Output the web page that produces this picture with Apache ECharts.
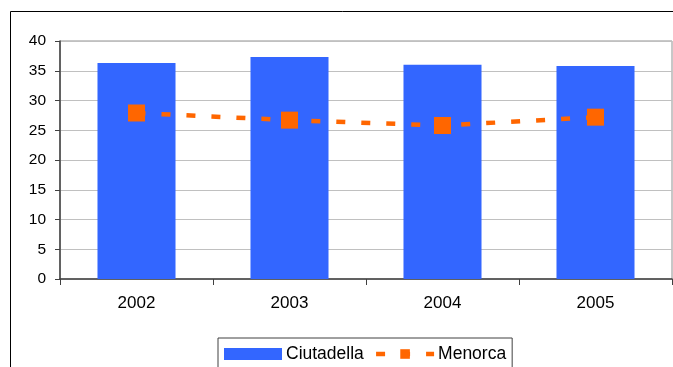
<!DOCTYPE html>
<html>
<head>
<meta charset="utf-8">
<script src="https://cdn.jsdelivr.net/npm/echarts@6/dist/echarts.min.js"></script>
<style>
html,body{margin:0;padding:0;background:#fff;}
#c{width:673px;height:367px;}
</style>
</head>
<body>
<div id="c"></div>
<script>
const categories = ['2002', '2003', '2004', '2005'];
const ciutadella = [36.3, 37.3, 36.0, 35.8];
const menorca = [27.9, 26.7, 25.8, 27.2];
const yTicks = { min: 0, max: 40, interval: 5 };

const chart = echarts.init(document.getElementById('c'), null, { renderer: 'canvas' });
const font = 'Arial, "Liberation Sans", sans-serif';
chart.setOption({
  animation: false,
  backgroundColor: '#fff',
  graphic: [{
    type: 'rect',
    shape: { x: 10.5, y: 11.5, width: 700, height: 400 },
    style: { fill: 'none', stroke: '#000', lineWidth: 1 },
    silent: true
  }],
  grid: {
    left: 60, right: 1, top: 41, bottom: 88,
    show: true, borderColor: '#909090', borderWidth: 1, backgroundColor: 'transparent'
  },
  legend: {
    left: 218, top: 338,
    padding: [6, 6, 20, 6],
    borderColor: '#404040', borderWidth: 1,
    itemWidth: 58, itemHeight: 12, itemGap: 10,
    textStyle: { fontFamily: font, fontSize: 17.5, color: '#000', lineHeight: 20, padding: [0, 0, 0, -1] },
    data: [
      { name: 'Ciutadella', icon: 'rect' },
      { name: 'Menorca', lineStyle: { width: 4.5, type: [9, 16], color: '#FF6600' } }
    ]
  },
  xAxis: {
    type: 'category',
    data: categories,
    boundaryGap: true,
    axisLine: { lineStyle: { color: '#404040', width: 1.5 } },
    axisTick: { show: true, length: 6, lineStyle: { color: '#404040' } },
    axisLabel: { fontFamily: font, fontSize: 17, color: '#000', margin: 16 },
    splitLine: { show: false }
  },
  yAxis: {
    type: 'value',
    min: yTicks.min, max: yTicks.max, interval: yTicks.interval,
    axisLine: { show: true, lineStyle: { color: '#404040', width: 1.5 } },
    axisTick: { show: true, length: 5, lineStyle: { color: '#404040' } },
    axisLabel: { fontFamily: font, fontSize: 15.5, color: '#000', margin: 14 },
    splitLine: { show: true, lineStyle: { color: '#c0c0c0', width: 1 } }
  },
  series: [
    {
      name: 'Ciutadella',
      type: 'bar',
      data: ciutadella,
      barWidth: '51%',
      itemStyle: { color: '#3366FF' }
    },
    {
      name: 'Menorca',
      type: 'line',
      data: menorca,
      symbol: 'rect',
      symbolSize: 17,
      itemStyle: { color: '#FF6600' },
      lineStyle: { color: '#FF6600', width: 4.5, type: [9, 16] },
      z: 5
    }
  ]
});
</script>
</body>
</html>
